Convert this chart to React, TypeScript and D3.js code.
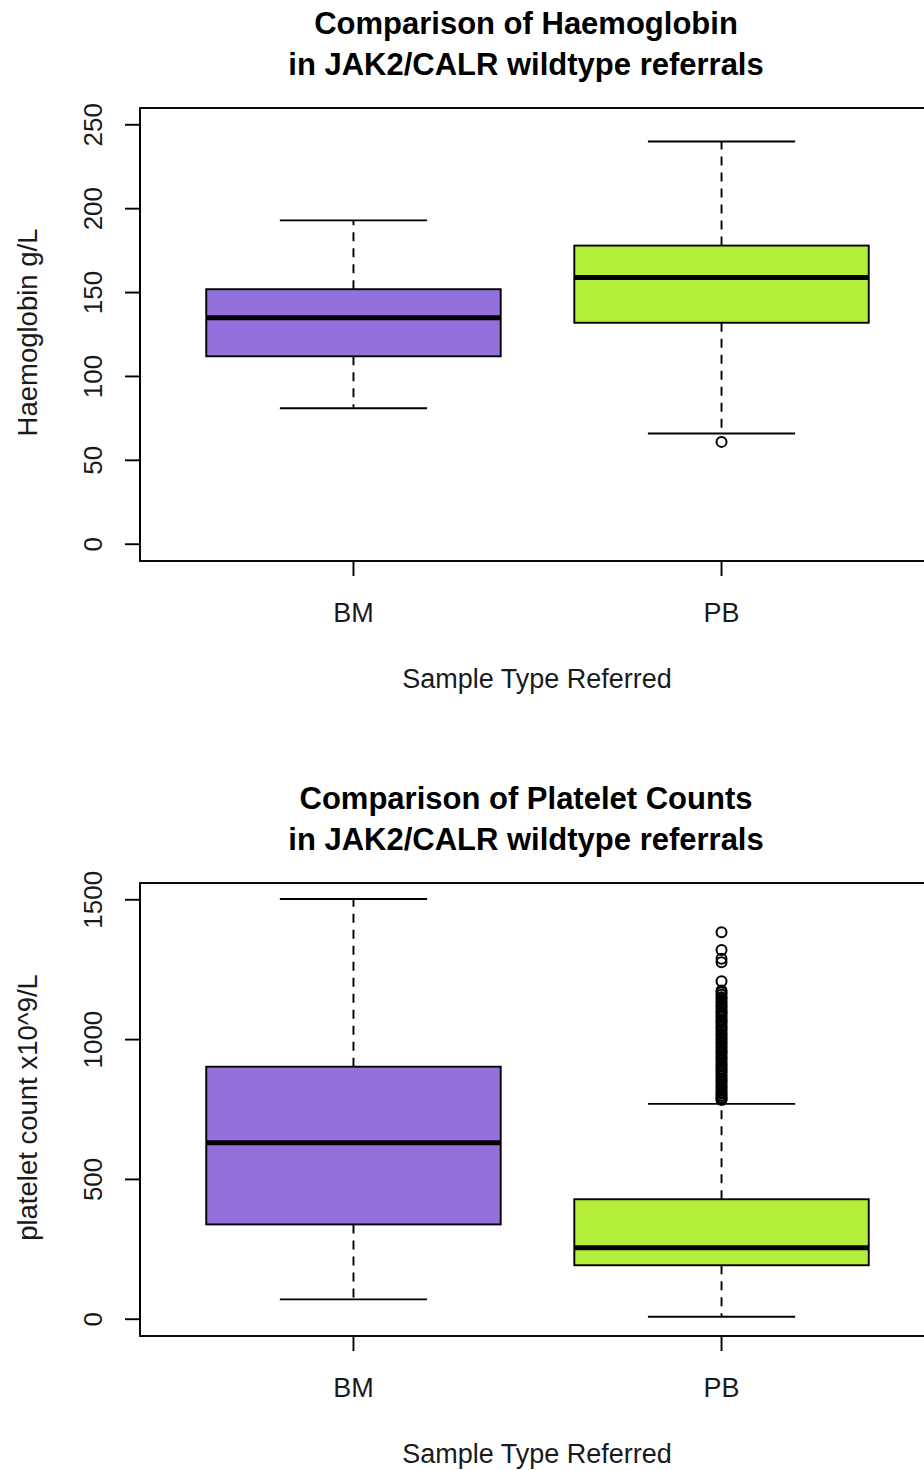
import React, { useRef, useEffect } from 'react';
import * as d3 from 'd3';

// categories on the x axis
const categories = ['BM', 'PB'];
const boxColors = ['#9370DB', '#B3EE3A'];

// five-number summaries per category: [lower whisker, Q1, median, Q3, upper whisker]
const hbStats = [
  [81, 112, 135, 152, 193],
  [66, 132, 159, 178, 240],
];
const hbOutliers = [[], [61]];
const hbTicks = [0, 50, 100, 150, 200, 250];

const pltStats = [
  [71, 339, 631, 903, 1503],
  [9, 193, 256, 429, 770],
];
const pltOutliers = [
  [],
  [1384, 1320, 1289, 1277, 1209, 1176, 1168, 1160, 1151, 1146, 1137, 1130, 1122, 1117, 1108,
    1100, 1096, 1088, 1080, 1071, 1066, 1059, 1050, 1043, 1037, 1029, 1020, 1014, 1006, 999,
    991, 986, 977, 970, 962, 955, 949, 940, 934, 927, 918, 911, 905, 897, 890, 884, 876,
    869, 861, 855, 848, 840, 833, 827, 819, 812, 806, 799, 793, 788, 784],
];
const pltTicks = [0, 500, 1000, 1500];

const FONT = '"Liberation Sans", Arial, Helvetica, sans-serif';
const LW = 1.9;

const BoxPanel = ({ svgRef, top, title, yLabel, yDomain, ticks, stats, outliers }) => {
  useEffect(() => {
    if (!svgRef.current) return;
    const svg = d3.select(svgRef.current);
    const g = svg.append('g').attr('class', 'panel');

    const left = 140;
    const right = 935;
    const bottom = top + 453;

    const x = d3.scaleLinear().domain([0.42, 2.58]).range([left, right]);
    const y = d3.scaleLinear().domain(yDomain).range([bottom, top]);
    const pos = categories.map((_, i) => i + 1);

    // title, two lines
    title.forEach((line, i) => {
      g.append('text')
        .attr('x', 526)
        .attr('y', top - 74.5 + i * 41)
        .attr('text-anchor', 'middle')
        .attr('font-family', FONT)
        .attr('font-weight', 'bold')
        .attr('font-size', '31px')
        .attr('fill', '#000')
        .text(line);
    });

    // y axis
    g.append('line')
      .attr('x1', left).attr('x2', left)
      .attr('y1', y(ticks[0])).attr('y2', y(ticks[ticks.length - 1]))
      .attr('stroke', '#000').attr('stroke-width', LW);
    ticks.forEach(t => {
      g.append('line')
        .attr('x1', left - 15).attr('x2', left)
        .attr('y1', y(t)).attr('y2', y(t))
        .attr('stroke', '#000').attr('stroke-width', LW);
      g.append('text')
        .attr('transform', `translate(102,${y(t)}) rotate(-90)`)
        .attr('text-anchor', 'middle')
        .attr('font-family', FONT)
        .attr('font-size', '26px')
        .attr('fill', '#1a1a1a')
        .text(t);
    });

    g.append('text')
      .attr('transform', `translate(37,${(top + bottom) / 2 - 2}) rotate(-90)`)
      .attr('text-anchor', 'middle')
      .attr('font-family', FONT)
      .attr('font-size', '27.5px')
      .attr('fill', '#1a1a1a')
      .text(yLabel);

    // x axis ticks and labels
    pos.forEach((p, i) => {
      g.append('line')
        .attr('x1', x(p)).attr('x2', x(p))
        .attr('y1', bottom).attr('y2', bottom + 15)
        .attr('stroke', '#000').attr('stroke-width', LW);
      g.append('text')
        .attr('x', x(p))
        .attr('y', bottom + 60.5)
        .attr('text-anchor', 'middle')
        .attr('font-family', FONT)
        .attr('font-size', '27px')
        .attr('fill', '#1a1a1a')
        .text(categories[i]);
    });

    g.append('text')
      .attr('x', 537)
      .attr('y', bottom + 127)
      .attr('text-anchor', 'middle')
      .attr('font-family', FONT)
      .attr('font-size', '27px')
      .attr('fill', '#1a1a1a')
      .text('Sample Type Referred');

    // boxes
    stats.forEach((s, i) => {
      const [lo, q1, med, q3, hi] = s;
      const c = x(pos[i]);
      const halfBox = x(0.4) - x(0);
      const halfCap = x(0.2) - x(0);

      // whiskers
      [[q3, hi], [q1, lo]].forEach(([a, b]) => {
        g.append('line')
          .attr('x1', c).attr('x2', c)
          .attr('y1', y(a)).attr('y2', y(b))
          .attr('stroke', '#000').attr('stroke-width', LW)
          .attr('stroke-dasharray', '9,7');
        g.append('line')
          .attr('x1', c - halfCap).attr('x2', c + halfCap)
          .attr('y1', y(b)).attr('y2', y(b))
          .attr('stroke', '#000').attr('stroke-width', LW);
      });

      g.append('rect')
        .attr('x', c - halfBox)
        .attr('y', y(q3))
        .attr('width', halfBox * 2)
        .attr('height', y(q1) - y(q3))
        .attr('fill', boxColors[i])
        .attr('stroke', '#000')
        .attr('stroke-width', LW);

      g.append('line')
        .attr('x1', c - halfBox).attr('x2', c + halfBox)
        .attr('y1', y(med)).attr('y2', y(med))
        .attr('stroke', '#000').attr('stroke-width', 5);

      g.selectAll(null)
        .data(outliers[i])
        .enter()
        .append('circle')
        .attr('cx', c)
        .attr('cy', d => y(d))
        .attr('r', 5)
        .attr('fill', 'none')
        .attr('stroke', '#000')
        .attr('stroke-width', 2);
    });

    // plot frame
    g.append('rect')
      .attr('x', left)
      .attr('y', top)
      .attr('width', right - left)
      .attr('height', bottom - top)
      .attr('fill', 'none')
      .attr('stroke', '#000')
      .attr('stroke-width', LW);

    return () => { g.remove(); };
  }, [svgRef, top]);

  return null;
};

const App = () => {
  const svgRef = useRef(null);
  return (
    <div>
      <svg
        ref={svgRef}
        width={924}
        height={1470}
        style={{ position: 'absolute', left: 0, top: 0, background: '#fff' }}
      />
      <BoxPanel
        svgRef={svgRef}
        top={108}
        title={['Comparison of Haemoglobin', ' in JAK2/CALR wildtype referrals']}
        yLabel="Haemoglobin g/L"
        yDomain={[-10, 260]}
        ticks={hbTicks}
        stats={hbStats}
        outliers={hbOutliers}
      />
      <BoxPanel
        svgRef={svgRef}
        top={883}
        title={['Comparison of Platelet Counts', ' in JAK2/CALR wildtype referrals']}
        yLabel="platelet count x10^9/L"
        yDomain={[-60, 1560]}
        ticks={pltTicks}
        stats={pltStats}
        outliers={pltOutliers}
      />
    </div>
  );
};

export default App;
